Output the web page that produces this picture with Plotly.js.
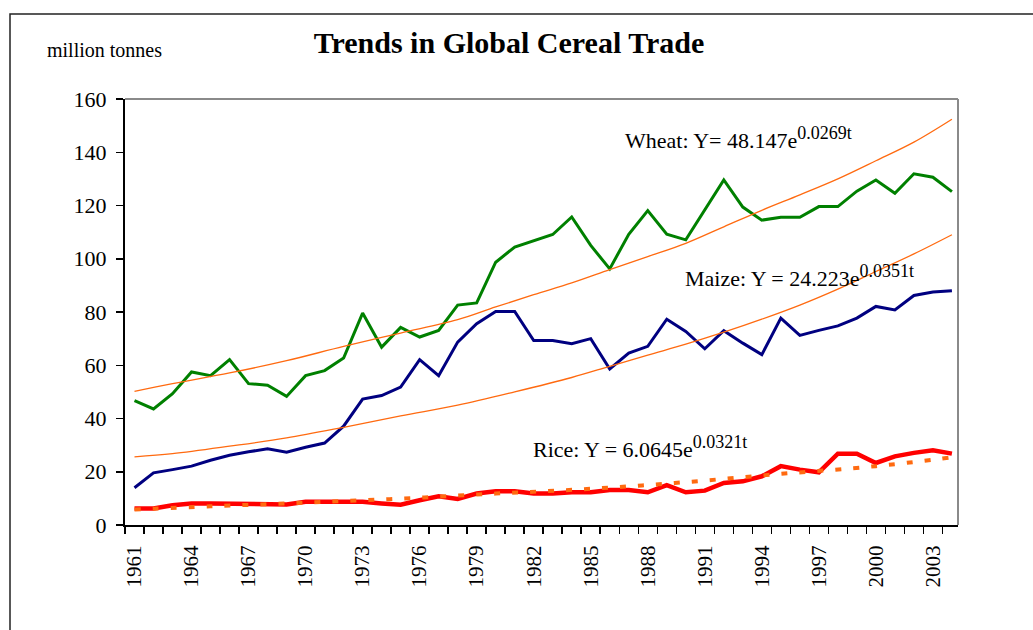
<!DOCTYPE html>
<html>
<head>
<meta charset="utf-8">
<script src="https://cdn.plot.ly/plotly-3.0.1.min.js"></script>
<style>
  html, body { margin: 0; padding: 0; background: #ffffff; }
  #chart { width: 1033px; height: 630px; }
</style>
</head>
<body>
<div id="chart"></div>
<script>
// ---- data ----
const years = [1961,1962,1963,1964,1965,1966,1967,1968,1969,1970,
               1971,1972,1973,1974,1975,1976,1977,1978,1979,1980,
               1981,1982,1983,1984,1985,1986,1987,1988,1989,1990,
               1991,1992,1993,1994,1995,1996,1997,1998,1999,2000,
               2001,2002,2003,2004];

const wheat = [46.7,43.6,49.3,57.5,56.1,62.1,53.1,52.5,48.3,56.1,
               58.0,62.7,79.6,66.8,74.2,70.6,73.1,82.6,83.4,98.7,
               104.4,106.7,109.1,115.7,105.0,96.2,109.2,118.1,109.2,107.1,
               118.6,129.6,119.4,114.5,115.6,115.6,119.6,119.6,125.4,129.6,
               124.6,131.9,130.6,125.2];

const maize = [14.0,19.6,20.8,22.1,24.3,26.2,27.5,28.6,27.3,29.2,
               30.8,37.1,47.3,48.6,51.8,62.1,56.1,68.7,75.6,80.2,
               80.2,69.3,69.3,68.1,70.0,58.6,64.6,67.1,77.3,72.7,
               66.2,73.0,68.3,64.0,77.7,71.2,73.1,74.8,77.7,82.1,
               80.8,86.2,87.5,88.0];

const rice = [6.2,6.2,7.4,8.1,8.1,8.1,8.1,7.7,7.7,8.7,
              8.7,8.7,8.7,8.1,7.6,9.3,10.8,9.8,11.8,12.7,
              12.7,11.8,11.8,12.3,12.3,13.1,13.1,12.3,15.0,12.3,
              12.9,15.8,16.4,18.3,22.1,20.8,19.8,26.8,26.8,23.3,
              25.8,27.1,28.1,26.8];

// trend lines as drawn in the picture (read at sample years)
const wheatTrendYears = [1961,1963,1966,1969,1972,1975,1978,1980,1982,1984,1986,1988,1990,1992,1994,1996,1998,2000,2002,2004];
const wheatTrend      = [50.2,53.1,57.1,61.7,67.1,72.1,77.1,81.9,86.5,90.9,95.9,100.8,105.8,112.0,118.2,124.0,130.0,136.8,143.8,152.4];

const maizeTrendYears = [1961,1963,1966,1969,1972,1975,1978,1981,1984,1986,1988,1990,1992,1994,1996,1998,2000,2002,2004];
const maizeTrend      = [25.6,26.8,29.6,32.7,36.7,41.0,45.0,50.0,55.4,59.6,63.8,67.9,72.4,77.3,82.6,88.6,95.2,101.8,109.0];

const riceTrendYears = [1961,1965,1970,1975,1980,1985,1990,1995,2000,2004];
const riceTrend      = [5.8,7.0,8.4,9.9,11.8,13.6,16.1,19.2,22.1,25.4];

const xTickYears = [1961,1964,1967,1970,1973,1976,1979,1982,1985,1988,1991,1994,1997,2000,2003];
const yTicks = [0,20,40,60,80,100,120,140,160];

const titleText = 'Trends in Global Cereal Trade';
const unitText = 'million tonnes';
const eqs = [
  {label: 'Wheat: Y= 48.147e', exp: '0.0269t'},
  {label: 'Maize: Y = 24.223e', exp: '0.0351t'},
  {label: 'Rice: Y = 6.0645e', exp: '0.0321t'}
];

// ---- styling ----
const serif = 'Liberation Serif, Times New Roman, serif';
const trendColor = '#FF6A10';
const eqText = e => e.label + '<sup><span style="font-size:18px">' + e.exp + '</span></sup>';

const traces = [
  {x: years, y: wheat, type: 'scatter', mode: 'lines', name: 'Wheat',
   line: {color: '#008000', width: 3}},
  {x: years, y: maize, type: 'scatter', mode: 'lines', name: 'Maize',
   line: {color: '#000080', width: 3}},
  {x: years, y: rice, type: 'scatter', mode: 'lines', name: 'Rice',
   line: {color: '#FF0000', width: 4.5}},
  {x: wheatTrendYears, y: wheatTrend, type: 'scatter', mode: 'lines', name: 'Wheat trend',
   line: {color: trendColor, width: 1.3, shape: 'spline'}},
  {x: maizeTrendYears, y: maizeTrend, type: 'scatter', mode: 'lines', name: 'Maize trend',
   line: {color: trendColor, width: 1.3, shape: 'spline'}},
  {x: riceTrendYears, y: riceTrend, type: 'scatter', mode: 'lines', name: 'Rice trend',
   line: {color: trendColor, width: 4, dash: '6px,12px', shape: 'spline'}}
];

const layout = {
  width: 1033, height: 630,
  margin: {l: 125, r: 75, t: 99, b: 105, pad: 0},
  paper_bgcolor: '#ffffff', plot_bgcolor: '#ffffff',
  showlegend: false,
  hovermode: false,
  font: {family: serif, color: '#000000', size: 21},
  title: {text: '<b>' + titleText + '</b>', x: 509/1033, xanchor: 'center',
          y: 1 - 42/630, yanchor: 'middle', xref: 'container', yref: 'container',
          font: {family: serif, size: 30, color: '#000000'}},
  xaxis: {
    range: [1960.5, 2004.32],
    showgrid: false, zeroline: false,
    showline: true, linecolor: '#000000', linewidth: 2,
    tickmode: 'array', tickvals: xTickYears, ticktext: xTickYears.map(String),
    ticks: '', tickangle: -90,
    ticklabelstandoff: 10,
    tickfont: {family: serif, size: 21, color: '#000000'},
    minor: {tickmode: 'linear', tick0: 1960.5, dtick: 1, ticks: 'outside',
            ticklen: 7, tickwidth: 1.5, tickcolor: '#000000', showgrid: false}
  },
  yaxis: {
    range: [0, 160],
    tickmode: 'array', tickvals: yTicks,
    showgrid: false, zeroline: false,
    showline: true, linecolor: '#000000', linewidth: 2,
    ticks: 'outside', ticklen: 7, tickwidth: 1.5, tickcolor: '#000000',
    ticklabelstandoff: 5,
    tickfont: {family: serif, size: 22, color: '#000000'}
  },
  shapes: [
    {type: 'line', xref: 'paper', yref: 'paper', x0: 0, x1: 1, y0: 1, y1: 1,
     line: {color: '#8a8a8a', width: 2}},
    {type: 'line', xref: 'paper', yref: 'paper', x0: 1, x1: 1, y0: 0, y1: 1,
     line: {color: '#8a8a8a', width: 2}},
    {type: 'rect', xref: 'paper', yref: 'paper',
     x0: (10 - 125) / 833, x1: 1.2, y0: -0.35, y1: (525 - 14) / 426,
     line: {color: '#222222', width: 1.5}, fillcolor: 'rgba(0,0,0,0)', layer: 'below'}
  ],
  annotations: [
    {text: unitText, xref: 'paper', yref: 'paper', x: (45 - 125) / 833, y: (525 - 50) / 426,
     xanchor: 'left', yanchor: 'middle', showarrow: false,
     font: {family: serif, size: 20, color: '#000000'}},
    {text: eqText(eqs[0]), xref: 'x', yref: 'y', x: 1986.68, y: 145.5, xanchor: 'left', yanchor: 'middle',
     showarrow: false, font: {family: serif, size: 22, color: '#000000'}},
    {text: eqText(eqs[1]), xref: 'x', yref: 'y', x: 1989.84, y: 93.6, xanchor: 'left', yanchor: 'middle',
     showarrow: false, font: {family: serif, size: 22, color: '#000000'}},
    {text: eqText(eqs[2]), xref: 'x', yref: 'y', x: 1981.84, y: 29.4, xanchor: 'left', yanchor: 'middle',
     showarrow: false, font: {family: serif, size: 22, color: '#000000'}}
  ]
};

Plotly.newPlot('chart', traces, layout, {staticPlot: true, displayModeBar: false});
</script>
</body>
</html>
